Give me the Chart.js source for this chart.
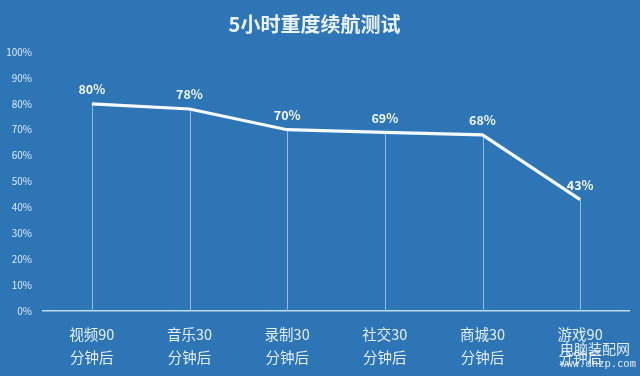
<!DOCTYPE html>
<html>
<head>
<meta charset="utf-8">
<script src="https://cdn.jsdelivr.net/npm/chart.js@4/dist/chart.umd.min.js"></script>
<style>
  html, body { margin: 0; padding: 0; background: #2E75B6; }
  #wrap { width: 640px; height: 376px; }
</style>
</head>
<body>
<div id="wrap"><canvas id="chart"></canvas></div>
<script>
const categories = [
  ["视频90", "分钟后"],
  ["音乐30", "分钟后"],
  ["录制30", "分钟后"],
  ["社交30", "分钟后"],
  ["商城30", "分钟后"],
  ["游戏90", "分钟后"]
];
const battery = [80, 78, 70, 69, 68, 43];
const yTicks = [0, 10, 20, 30, 40, 50, 60, 70, 80, 90, 100];

const FONT = "'Noto Sans CJK SC', 'Noto Sans', sans-serif";

// drop lines from each point down to the axis
const dropLines = {
  id: "dropLines",
  beforeDatasetsDraw(chart) {
    const ctx = chart.ctx;
    const y0 = chart.scales.y.getPixelForValue(0);
    ctx.save();
    ctx.strokeStyle = "#8FBCE6";
    ctx.lineWidth = 1;
    chart.getDatasetMeta(0).data.forEach(p => {
      ctx.beginPath();
      ctx.moveTo(Math.round(p.x) + 0.5, p.y);
      ctx.lineTo(Math.round(p.x) + 0.5, y0);
      ctx.stroke();
    });
    ctx.restore();
  }
};

// value labels above points + watermark
const valueLabels = {
  id: "valueLabels",
  afterDatasetsDraw(chart) {
    const ctx = chart.ctx;
    ctx.save();
    ctx.fillStyle = "#F2F8FD";
    ctx.font = "bold 12.5px " + FONT;
    ctx.textAlign = "center";
    ctx.textBaseline = "bottom";
    chart.getDatasetMeta(0).data.forEach((p, i) => {
      ctx.fillText(battery[i] + "%", p.x, p.y - 8);
    });

    ctx.globalAlpha = 0.85;
    ctx.fillStyle = "#FFFFFF";
    ctx.font = "14px " + FONT;
    ctx.textAlign = "right";
    ctx.textBaseline = "middle";
    ctx.fillText("电脑装配网", 630, 349);
    ctx.font = "10.5px 'DejaVu Sans Mono', monospace";
    ctx.fillText("www.dnzp.com", 636, 364);
    ctx.restore();
  }
};

new Chart(document.getElementById("chart"), {
  type: "line",
  data: {
    labels: categories,
    datasets: [{
      data: battery,
      borderColor: "#F4FAFF",
      borderWidth: 3.2,
      pointRadius: 0,
      tension: 0,
      fill: false
    }]
  },
  options: {
    responsive: true,
    maintainAspectRatio: false,
    animation: false,
    layout: { padding: { left: 0, right: 11, top: 0, bottom: 0 } },
    plugins: {
      legend: { display: false },
      tooltip: { enabled: false },
      title: {
        display: true,
        text: "5小时重度续航测试",
        color: "#EAF3FC",
        font: { family: FONT, size: 20, weight: "bold" },
        padding: { top: 12, bottom: 16 }
      }
    },
    scales: {
      x: {
        offset: true,
        afterFit(scale) { scale.height = 65; },
        grid: { display: false, drawTicks: false },
        border: { display: true, color: "#BFDDF5", width: 1.5 },
        ticks: {
          color: "#E4EFFA",
          font: { family: FONT, size: 14.5, lineHeight: 1.6 },
          padding: 12,
          maxRotation: 0
        }
      },
      y: {
        min: 0,
        max: 100,
        afterFit(scale) { scale.width = 43; },
        afterBuildTicks(axis) {
          axis.ticks = yTicks.map(v => ({ value: v }));
        },
        grid: { display: false, drawTicks: false },
        border: { display: false },
        ticks: {
          color: "#DCEAF8",
          font: { family: FONT, size: 10 },
          padding: 11,
          callback: v => v + "%"
        }
      }
    }
  },
  plugins: [dropLines, valueLabels]
});
</script>
</body>
</html>
